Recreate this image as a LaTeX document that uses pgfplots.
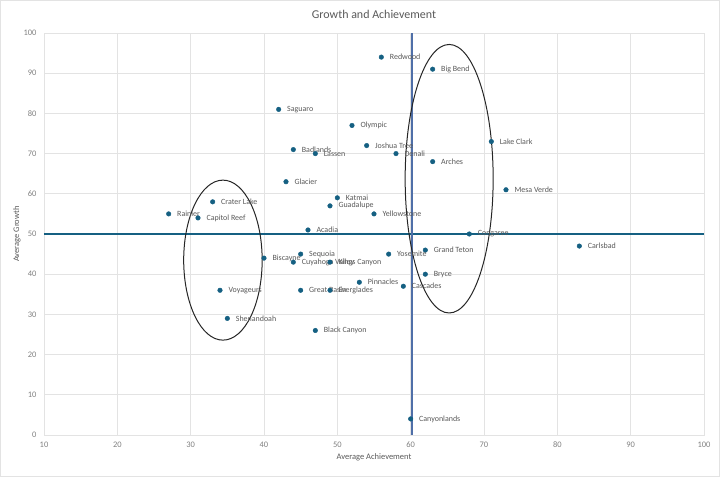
\documentclass[border=0pt]{standalone}
\usepackage{fontspec}
\setmainfont{Carlito}
\usepackage{pgfplots}
\pgfplotsset{compat=1.18}
\usepackage{pgfplotstable}

\definecolor{dot}{HTML}{156082}
\definecolor{vline}{HTML}{4F6FA8}
\definecolor{lbl}{HTML}{595959}
\definecolor{tickc}{HTML}{808080}
\definecolor{gridc}{HTML}{E3E3E3}

% achievement, growth, park
\pgfplotstableread{
x  y  name
56 94 Redwood
63 91 {Big Bend}
42 81 Saguaro
52 77 Olympic
71 73 {Lake Clark}
54 72 {Joshua Tree}
44 71 Badlands
47 70 Lassen
58 70 Denali
63 68 Arches
43 63 Glacier
73 61 {Mesa Verde}
50 59 Katmai
33 58 {Crater Lake}
49 57 Guadalupe
27 55 Rainier
55 55 Yellowstone
31 54 {Capitol Reef}
46 51 Acadia
68 50 Congaree
83 47 Carlsbad
62 46 {Grand Teton}
45 45 Sequoia
57 45 Yosemite
40 44 Biscayne
44 43 {Cuyahoga Valley}
49 43 {Kings Canyon}
62 40 Bryce
53 38 Pinnacles
59 37 Cascades
34 36 Voyageurs
45 36 {Great Basin}
49 36 Everglades
35 29 Shenandoah
47 26 {Black Canyon}
60 4  Canyonlands
}\parks

\begin{document}
\begin{tikzpicture}
\useasboundingbox (-44bp,-42bp) rectangle (676bp,435bp);
\draw[gridc] (-43.5bp,-41.5bp) rectangle (675.5bp,434.5bp);
\begin{axis}[
    at={(0,0)}, anchor=south west,
    scale only axis,
    width=660bp, height=402bp,
    xmin=10, xmax=100, ymin=0, ymax=100,
    xtick distance=10, ytick distance=10,
    grid=major,
    grid style={draw=gridc, line width=0.75bp},
    axis line style={draw=gridc, line width=0.75bp},
    major tick length=0pt,
    /pgf/number format/assume math mode=true,
    tick label style={font=\fontsize{8.5}{10}\selectfont, color=tickc},
    xticklabel style={yshift=-3.5bp},
    yticklabel style={xshift=-4bp},
    every axis title shift=0pt,
    title={Growth and Achievement},
    title style={font=\fontsize{12}{14}\selectfont, color=lbl,
        at={(axis description cs:0.5,1.0473)}, anchor=center},
    xlabel={Average Achievement},
    ylabel={Average Growth},
    label style={font=\fontsize{8.5}{10}\selectfont, color=lbl},
    xlabel style={at={(axis description cs:0.5,-0.0547)}, anchor=center},
    ylabel style={at={(axis description cs:-0.0409,0.5)}, anchor=center},
]
\addplot[only marks, mark=*, mark size=2.3bp,
    mark options={draw=dot, fill=dot},
    nodes near coords, point meta=explicit symbolic,
    nodes near coords style={anchor=west, xshift=5bp,
        font=\fontsize{8}{9}\selectfont, color=lbl}]
    table[x=x, y=y, meta=name] {\parks};
\addplot[dot, line width=1.1bp] coordinates {(10,50) (100,50)};
\addplot[vline, line width=1.3bp] coordinates {(60.2,0) (60.2,100)};
\draw[black!85, line width=1bp] (axis cs:34.4,43.5) ellipse [x radius=5.35, y radius=19.9];
\draw[black!85, line width=1bp] (axis cs:65.25,63.75) ellipse [x radius=6.0, y radius=33.4];
\end{axis}
\end{tikzpicture}
\end{document}
